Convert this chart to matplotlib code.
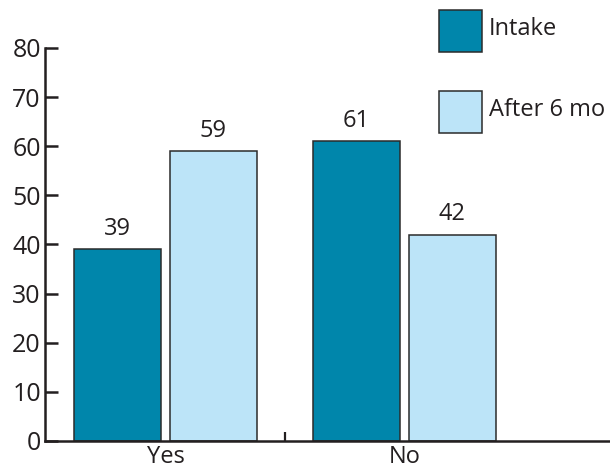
import matplotlib
matplotlib.use("Agg")
import matplotlib.pyplot as plt
from matplotlib.patches import Rectangle
import numpy as np

categories = ["Yes", "No"]
series_names = ["Intake", "After 6 mo"]
intake = [39, 61]
after_6mo = [59, 42]
y_ticks = [0, 10, 20, 30, 40, 50, 60, 70, 80]

colors = ["#0086ab", "#bce4f8"]
edge = "#2b2b2b"
ink = "#231f20"
FS = 18

plt.rcParams["font.family"] = ["Open Sans", "DejaVu Sans"]

W, H = 610, 466
fig = plt.figure(figsize=(W / 100, H / 100), dpi=100)
ax = fig.add_axes([45 / W, 25 / H, 565 / W, 393 / H])

x = np.arange(len(categories))
width = 0.364
offset = 0.2
for vals, col, sgn in zip([intake, after_6mo], colors, [-1, 1]):
    ax.bar(x + sgn * offset, vals, width, color=col, edgecolor=edge,
           linewidth=1.1)
    for xi, v in zip(x + sgn * offset, vals):
        ax.annotate(f"{v}", (xi, v), xytext=(0, 6), textcoords="offset points",
                    ha="center", va="bottom", fontsize=FS - 1, color=ink)

ax.set_xlim(-0.504, 1.86)
ax.set_ylim(0, 80)
ax.set_yticks(y_ticks)
ax.tick_params(axis="y", direction="in", length=9.5, width=1.8, color=ink,
               labelsize=FS, labelcolor=ink, pad=3)
ax.set_xticks([0.5])
ax.set_xticklabels([""])
ax.tick_params(axis="x", direction="in", length=6.5, width=1.6, color=ink)
for xi, c in zip(x, categories):
    ax.annotate(c, (xi, 0), xytext=(0, -3), textcoords="offset points",
                ha="center", va="top", fontsize=FS - 1, color=ink)

for s in ["top", "right"]:
    ax.spines[s].set_visible(False)
for s in ["left", "bottom"]:
    ax.spines[s].set_linewidth(1.8)
    ax.spines[s].set_color(ink)

# Legend: square swatches with labels, placed in pixel units from the top-left
box_x, box_w, box_h = 439, 43, 42
box_tops = [10, 91]
for name, col, top in zip(series_names, colors, box_tops):
    fig.add_artist(Rectangle((box_x / W, 1 - (top + box_h) / H), box_w / W, box_h / H,
                             transform=fig.transFigure, facecolor=col,
                             edgecolor=edge, linewidth=1.1))
    fig.text((box_x + box_w + 7) / W, 1 - (top + box_h / 2 - 2) / H, name,
             ha="left", va="center", fontsize=FS - 1, color=ink)

fig.savefig("out.png", dpi=100)
